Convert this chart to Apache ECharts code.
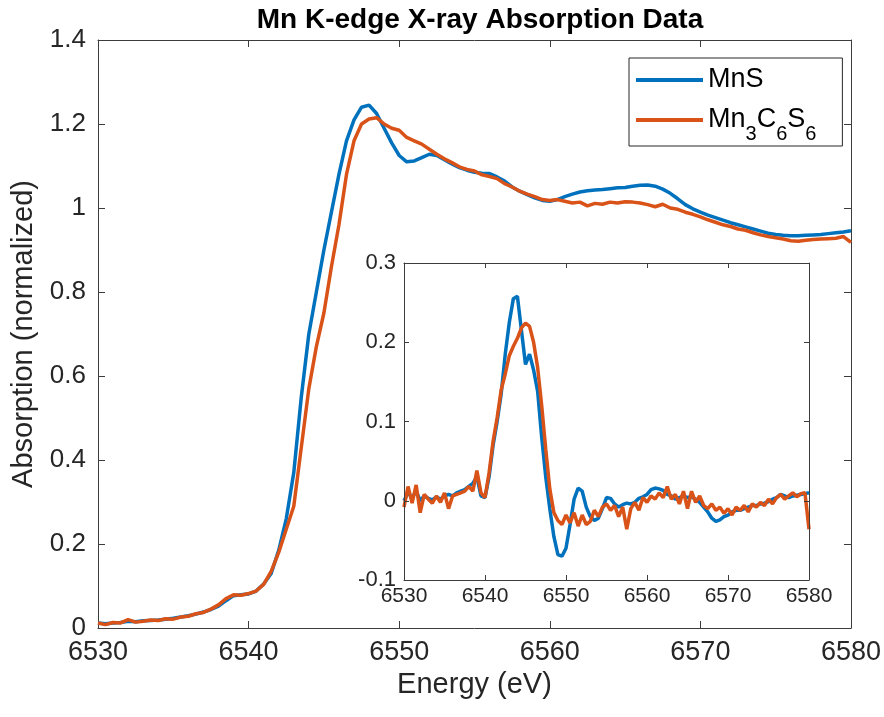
<!DOCTYPE html>
<html>
<head>
<meta charset="utf-8">
<script src="https://cdn.jsdelivr.net/npm/echarts@6/dist/echarts.min.js"></script>
<style>
  html, body { margin: 0; padding: 0; background: #ffffff; }
  #chart { width: 884px; height: 717px; }
</style>
</head>
<body>
<div id="chart"></div>
<script>
// Energy grid (eV), shared by all sampled spectra
const energy = [
  6530, 6530.5, 6531, 6531.5, 6532, 6532.5, 6533, 6533.5, 6534, 6534.5,
  6535, 6535.5, 6536, 6536.5, 6537, 6537.5, 6538, 6538.5, 6539, 6539.5,
  6540, 6540.5, 6541, 6541.5, 6542, 6542.5, 6543, 6543.5, 6544, 6544.5,
  6545, 6545.5, 6546, 6546.5, 6547, 6547.5, 6548, 6548.5, 6549, 6549.5,
  6550, 6550.5, 6551, 6551.5, 6552, 6552.5, 6553, 6553.5, 6554, 6554.5,
  6555, 6555.5, 6556, 6556.5, 6557, 6557.5, 6558, 6558.5, 6559, 6559.5,
  6560, 6560.5, 6561, 6561.5, 6562, 6562.5, 6563, 6563.5, 6564, 6564.5,
  6565, 6565.5, 6566, 6566.5, 6567, 6567.5, 6568, 6568.5, 6569, 6569.5,
  6570, 6570.5, 6571, 6571.5, 6572, 6572.5, 6573, 6573.5, 6574, 6574.5,
  6575, 6575.5, 6576, 6576.5, 6577, 6577.5, 6578, 6578.5, 6579, 6579.5,
  6580
];

// Normalized absorption, MnS
const absMnS = [
  0.012, 0.010, 0.012, 0.013, 0.016, 0.015, 0.017, 0.018, 0.019, 0.021,
  0.023, 0.026, 0.029, 0.033, 0.038, 0.044, 0.052, 0.065, 0.077, 0.079,
  0.081, 0.088, 0.105, 0.130, 0.185, 0.260, 0.370, 0.550, 0.700, 0.800,
  0.900, 0.990, 1.080, 1.160, 1.210, 1.240, 1.245, 1.225, 1.190, 1.155,
  1.125, 1.110, 1.112, 1.120, 1.128, 1.125, 1.115, 1.105, 1.096, 1.090,
  1.085, 1.083, 1.082, 1.074, 1.064, 1.050, 1.040, 1.032, 1.024, 1.018,
  1.016, 1.020, 1.027, 1.033, 1.038, 1.041, 1.043, 1.044, 1.046, 1.048,
  1.049, 1.052, 1.054, 1.055, 1.052, 1.045, 1.035, 1.022, 1.008, 0.998,
  0.990, 0.983, 0.977, 0.971, 0.965, 0.960, 0.955, 0.950, 0.945, 0.940,
  0.937, 0.935, 0.934, 0.934, 0.935, 0.936, 0.937, 0.939, 0.941, 0.943,
  0.946
];

// Normalized absorption, Mn3C6S6
const absMn3C6S6 = [
  0.012, 0.008, 0.013, 0.012, 0.020, 0.014, 0.016, 0.019, 0.018, 0.022,
  0.021, 0.026, 0.028, 0.034, 0.037, 0.045, 0.055, 0.070, 0.079, 0.078,
  0.082, 0.088, 0.104, 0.135, 0.180, 0.235, 0.290, 0.430, 0.570, 0.670,
  0.750, 0.860, 0.960, 1.080, 1.160, 1.200, 1.212, 1.215, 1.200, 1.190,
  1.185, 1.168, 1.160, 1.152, 1.140, 1.128, 1.117, 1.108, 1.098, 1.092,
  1.088, 1.079, 1.075, 1.070, 1.058, 1.050, 1.040, 1.033, 1.027, 1.020,
  1.018, 1.020, 1.016, 1.012, 1.014, 1.005, 1.011, 1.009, 1.014, 1.012,
  1.015, 1.014, 1.012, 1.008, 1.003, 1.009, 1.000, 0.997, 0.990, 0.985,
  0.979, 0.972, 0.966, 0.960, 0.956, 0.950, 0.947, 0.941, 0.936, 0.932,
  0.929, 0.926, 0.922, 0.921, 0.923, 0.925, 0.926, 0.927, 0.928, 0.932,
  0.918
];

// Difference spectra for the inset
const diffMnS = [
  0.000, 0.010, 0.004, 0.012, 0.000, 0.006, 0.003, 0.001, 0.005, 0.002,
  0.006, 0.008, 0.006, 0.010, 0.012, 0.014, 0.018, 0.022, 0.030, 0.006,
  0.004, 0.030, 0.070, 0.100, 0.135, 0.185, 0.225, 0.255, 0.258, 0.215,
  0.172, 0.185, 0.165, 0.138, 0.080, 0.030, -0.010, -0.045, -0.068, -0.070,
  -0.060, -0.030, 0.002, 0.016, 0.012, -0.008, -0.020, -0.025, -0.022, -0.010,
  0.004, 0.003, -0.004, -0.008, -0.005, -0.003, -0.004, -0.002, 0.003, 0.005,
  0.008, 0.014, 0.016, 0.015, 0.013, 0.008, 0.006, 0.002, 0.004, 0.006,
  0.004, 0.005, 0.002, -0.002, -0.008, -0.014, -0.022, -0.026, -0.024, -0.020,
  -0.018, -0.014, -0.012, -0.012, -0.010, -0.008, -0.006, -0.006, -0.004, -0.003,
  -0.001, 0.002, 0.004, 0.008, 0.006, 0.004, 0.006, 0.007, 0.008, 0.009,
  0.010
];

const diffMn3C6S6 = [
  -0.008, 0.018, -0.003, 0.020, -0.015, 0.008, 0.002, -0.003, 0.006, -0.002,
  0.010, -0.010, 0.006, 0.008, 0.010, 0.012, 0.018, 0.012, 0.038, 0.010,
  0.004, 0.035, 0.075, 0.105, 0.140, 0.160, 0.183, 0.195, 0.205, 0.218,
  0.224, 0.220, 0.200, 0.168, 0.120, 0.065, 0.015, -0.015, -0.025, -0.030,
  -0.018, -0.028, -0.015, -0.032, -0.018, -0.030, -0.026, -0.012, -0.020, -0.008,
  -0.004, -0.012, -0.006, -0.020, -0.008, -0.036, -0.010, -0.002, -0.012, 0.004,
  -0.002, 0.006, 0.002, 0.010, 0.004, 0.018, 0.002, 0.008, -0.004, 0.012,
  -0.010, 0.012, -0.002, 0.006, -0.006, -0.010, -0.004, -0.012, -0.008, -0.016,
  -0.010, -0.018, -0.008, -0.012, -0.006, -0.014, -0.004, -0.008, -0.002, -0.006,
  0.002, -0.004, 0.004, 0.008, 0.002, 0.006, 0.010, 0.005, 0.009, 0.010,
  -0.036
];

const seriesNames = ['MnS', 'Mn3C6S6'];
const seriesColors = ['#0072BD', '#D95319'];

const FONT = '"Liberation Sans", Arial, Helvetica, sans-serif';
const INK = '#262626';
const LINE = '#3c3c3c';

const pairs = (xs, ys) => xs.map((x, i) => [x, ys[i]]);
const oneDecimal = v => String(Math.round(v * 10) / 10);
const plainInt = v => String(Math.round(v));

function xAxisDef(grid, pos, opts) {
  return Object.assign({
    gridIndex: grid, type: 'value', position: pos,
    min: 6530, max: 6580, interval: 10,
    axisLine: { show: true, onZero: false, lineStyle: { color: LINE, width: 1 } },
    axisTick: { show: true, inside: true, length: 7, lineStyle: { color: LINE } },
    axisLabel: { show: false },
    splitLine: { show: false },
    z: grid === 1 ? 8 : 2
  }, opts);
}
function yAxisDef(grid, pos, min, max, interval, opts) {
  return Object.assign({
    gridIndex: grid, type: 'value', position: pos,
    min: min, max: max, interval: interval,
    axisLine: { show: true, onZero: false, lineStyle: { color: LINE, width: 1 } },
    axisTick: { show: true, inside: true, length: 7, lineStyle: { color: LINE } },
    axisLabel: { show: false },
    splitLine: { show: false },
    z: grid === 1 ? 8 : 2
  }, opts);
}

const chart = echarts.init(document.getElementById('chart'), null, { renderer: 'canvas' });

const INSET_TICK = { show: true, inside: true, length: 5, lineStyle: { color: LINE } };

const option = {
  animation: false,
  backgroundColor: '#ffffff',
  title: {
    text: 'Mn K-edge X-ray Absorption Data',
    left: 475, top: 1, textAlign: 'center',
    textStyle: { fontFamily: FONT, fontSize: 28, fontWeight: 'bold', color: '#000' }
  },
  legend: {
    left: 629, top: 58,
    orient: 'vertical',
    data: seriesNames,
    icon: 'rect', itemWidth: 67, itemHeight: 4, itemGap: 8,
    padding: [6, 26, 2, 7],
    borderColor: INK, borderWidth: 1, backgroundColor: '#ffffff',
    formatter: name => name === 'Mn3C6S6'
      ? '{n|Mn}{s|3}{n|C}{s|6}{n|S}{s|6}'
      : '{n|' + name + '}',
    textStyle: {
      fontFamily: FONT, fontSize: 27, lineHeight: 32, color: '#000',
      rich: {
        n: { fontFamily: FONT, fontSize: 27, lineHeight: 32, color: '#000' },
        s: { fontFamily: FONT, fontSize: 20, lineHeight: 32, color: '#000', padding: [14, 0, -14, 0] }
      }
    }
  },
  grid: [
    { left: 98, right: 33, top: 40, bottom: 89 },
    { left: 404, right: 75, top: 263, bottom: 137, show: true, backgroundColor: '#ffffff', borderWidth: 0, z: 3 }
  ],
  xAxis: [
    xAxisDef(0, 'bottom', {
      axisLabel: { show: true, margin: 11, fontFamily: FONT, fontSize: 27, color: INK, formatter: plainInt },
      name: 'Energy (eV)', nameLocation: 'middle', nameGap: 36,
      nameTextStyle: { fontFamily: FONT, fontSize: 29, color: INK }
    }),
    xAxisDef(0, 'top'),
    xAxisDef(1, 'bottom', {
      axisTick: INSET_TICK,
      axisLabel: { show: true, margin: 6, fontFamily: FONT, fontSize: 21, color: INK, formatter: plainInt }
    }),
    xAxisDef(1, 'top', { axisTick: INSET_TICK })
  ],
  yAxis: [
    yAxisDef(0, 'left', 0, 1.4, 0.2, {
      axisLabel: { show: true, margin: 12, fontFamily: FONT, fontSize: 26, color: INK, formatter: oneDecimal },
      name: 'Absorption (normalized)', nameLocation: 'middle', nameGap: 58,
      nameTextStyle: { fontFamily: FONT, fontSize: 29, color: INK }
    }),
    yAxisDef(0, 'right', 0, 1.4, 0.2),
    yAxisDef(1, 'left', -0.1, 0.3, 0.1, {
      axisTick: INSET_TICK,
      axisLabel: { show: true, margin: 8, fontFamily: FONT, fontSize: 22, color: INK, formatter: oneDecimal }
    }),
    yAxisDef(1, 'right', -0.1, 0.3, 0.1, { axisTick: INSET_TICK })
  ],
  series: [
    { name: 'MnS', type: 'line', xAxisIndex: 0, yAxisIndex: 0, data: pairs(energy, absMnS), z: 2 },
    { name: 'Mn3C6S6', type: 'line', xAxisIndex: 0, yAxisIndex: 0, data: pairs(energy, absMn3C6S6), z: 2 },
    { name: 'MnS', type: 'line', xAxisIndex: 2, yAxisIndex: 2, data: pairs(energy, diffMnS), z: 6 },
    { name: 'Mn3C6S6', type: 'line', xAxisIndex: 2, yAxisIndex: 2, data: pairs(energy, diffMn3C6S6), z: 6 }
  ].map((s, i) => Object.assign(s, {
    showSymbol: false, symbol: 'none',
    color: seriesColors[i % 2],
    lineStyle: { color: seriesColors[i % 2], width: 3.5 },
    emphasis: { disabled: true }
  }))
};

chart.setOption(option);
</script>
</body>
</html>
